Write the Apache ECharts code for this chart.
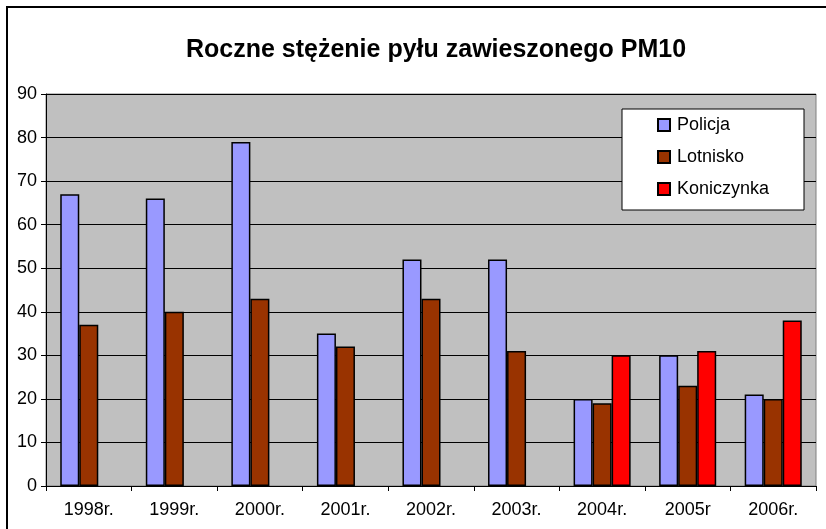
<!DOCTYPE html>
<html>
<head>
<meta charset="utf-8">
<script src="https://cdn.jsdelivr.net/npm/echarts@6/dist/echarts.min.js"></script>
<style>
  html, body { margin: 0; padding: 0; background: #fff; }
  #main { width: 826px; height: 529px; }
</style>
</head>
<body>
<div id="main"></div>
<script>
// dane: stężenie PM10
var lata = ['1998r.', '1999r.', '2000r.', '2001r.', '2002r.', '2003r.', '2004r.', '2005r', '2006r.'];
var policja = [67, 66, 79, 35, 52, 52, 20, 30, 21];
var lotnisko = [37, 40, 43, 32, 43, 31, 19, 23, 20];
var koniczynka = [null, null, null, null, null, null, 30, 31, 38];
var yTicks = [0, 10, 20, 30, 40, 50, 60, 70, 80, 90];

var myChart = echarts.init(document.getElementById('main'));

function seria(name, data, color) {
    return {
        name: name,
        type: 'bar',
        data: data,
        barGap: 0,
        barCategoryGap: '33.3%',
        itemStyle: { color: color, borderColor: '#000', borderWidth: 1.5 }
    };
}

option = {
    backgroundColor: '#fff',
    animation: false,
    textStyle: { fontFamily: 'Liberation Sans, Arial, sans-serif' },
    title: {
        text: 'Roczne stężenie pyłu zawieszonego PM10',
        left: 431,
        textAlign: 'center',
        top: 33,
        textStyle: { fontSize: 25, fontWeight: 'bold', color: '#000' }
    },
    graphic: [
        // ramka wykresu
        { type: 'rect', shape: { x: 7, y: 7, width: 830, height: 540 },
          style: { fill: null, stroke: '#000', lineWidth: 2 }, z: 100 },
        // tło legendy
        { type: 'rect', shape: { x: 622, y: 109, width: 182, height: 101 },
          style: { fill: '#fff', stroke: '#000', lineWidth: 1 }, z: 5 }
    ],
    legend: {
        orient: 'vertical',
        left: 657,
        top: 116,
        padding: 0,
        icon: 'rect',
        itemWidth: 12,
        itemHeight: 12,
        itemGap: 14,
        z: 10,
        textStyle: { fontSize: 18, color: '#000', padding: [0, 0, 0, 2] },
        data: ['Policja', 'Lotnisko', 'Koniczynka']
    },
    grid: {
        left: 46,
        right: 10,
        top: 94,
        bottom: 43,
        show: true,
        backgroundColor: '#c0c0c0',
        borderColor: '#808080',
        borderWidth: 1
    },
    xAxis: {
        type: 'category',
        data: lata,
        axisLine: { lineStyle: { color: '#000', width: 1 } },
        axisTick: { show: true, length: 5, lineStyle: { color: '#000' } },
        axisLabel: { fontSize: 18, color: '#000', margin: 15 }
    },
    yAxis: {
        type: 'value',
        min: yTicks[0],
        max: yTicks[yTicks.length - 1],
        interval: 10,
        axisLine: { show: true, lineStyle: { color: '#000', width: 1 } },
        axisTick: { show: true, length: 5, lineStyle: { color: '#000' } },
        axisLabel: { fontSize: 18, color: '#000', margin: 9 },
        splitLine: { lineStyle: { color: '#000', width: 1 } }
    },
    series: [
        seria('Policja', policja, '#9999ff'),
        seria('Lotnisko', lotnisko, '#993300'),
        seria('Koniczynka', koniczynka, '#ff0000')
    ]
};
myChart.setOption(option);
</script>
</body>
</html>
